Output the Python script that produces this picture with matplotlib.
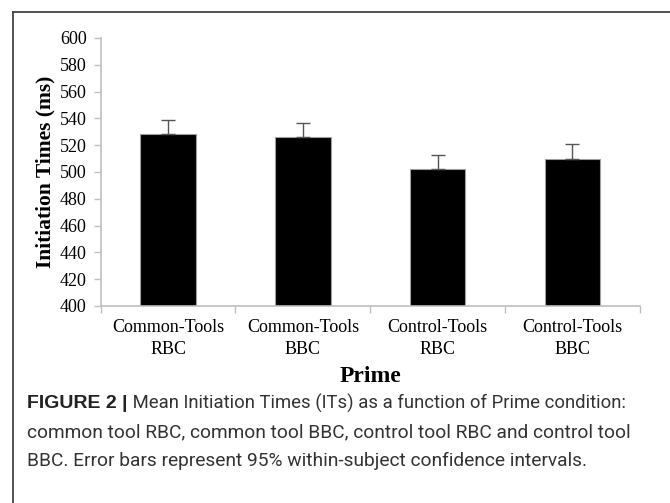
import matplotlib
matplotlib.use("Agg")
import matplotlib.pyplot as plt
from matplotlib.lines import Line2D

# values
conditions = ["Common-Tools\nRBC", "Common-Tools\nBBC", "Control-Tools\nRBC", "Control-Tools\nBBC"]
mean_it = [528, 526, 502, 510]
ci95 = [10.5, 10.7, 10.5, 11.0]
y_ticks = list(range(400, 601, 20))

caption_bold = "FIGURE 2 |"
caption_lines = [
    " Mean Initiation Times (ITs) as a function of Prime condition:",
    "common tool RBC, common tool BBC, control tool RBC and control tool",
    "BBC. Error bars represent 95% within-subject confidence intervals.",
]

serif = "Liberation Serif"
axis_grey = "#bfbfbf"

fig = plt.figure(figsize=(6.7, 5.03), dpi=100)
ax = fig.add_axes([0.1503, 0.3917, 0.8047, 0.5328])

x = list(range(len(conditions)))
ax.bar(x, mean_it, width=0.41, color="black", edgecolor="#a0a0a0", linewidth=0.8, zorder=2)
ax.errorbar(x, mean_it, yerr=[[0] * len(ci95), ci95], fmt="none", ecolor="#555555",
            elinewidth=1.0, capsize=5, capthick=1.0, zorder=3)

ax.set_xlim(-0.5, len(conditions) - 0.5)
ax.set_ylim(400, 600)
ax.set_yticks(y_ticks)
ax.set_yticklabels([str(v) for v in y_ticks], fontfamily=serif, fontsize=13)

# category boundaries get the tick marks, labels sit in the middle
ax.set_xticks([i - 0.5 for i in range(len(conditions) + 1)])
ax.set_xticklabels([])
ax.set_xticks(x, minor=True)
ax.set_xticklabels(conditions, minor=True, fontfamily=serif, fontsize=13, linespacing=1.35)
ax.tick_params(axis="x", which="minor", length=0, pad=9.5)
ax.tick_params(axis="x", which="major", length=5, color=axis_grey, width=1)
ax.tick_params(axis="y", length=5, color=axis_grey, width=1, pad=5)

for side in ["top", "right"]:
    ax.spines[side].set_visible(False)
for side in ["left", "bottom"]:
    ax.spines[side].set_color(axis_grey)
    ax.spines[side].set_linewidth(1.2)

ax.set_ylabel("Initiation Times (ms)", fontfamily=serif, fontweight="bold", fontsize=15.5)
ax.yaxis.set_label_coords(-0.103, 0.5)
ax.yaxis.label.set_va("center")
ax.set_xlabel("Prime", fontfamily=serif, fontweight="bold", fontsize=17)
ax.xaxis.set_label_coords(0.5, -0.2836)
ax.xaxis.label.set_va("baseline")

# frame of the figure panel (top and left edges)
fig.add_artist(Line2D([13 / 670, 1.0], [1 - 12 / 503, 1 - 12 / 503], transform=fig.transFigure,
                      color="#444444", linewidth=1.3))
fig.add_artist(Line2D([13 / 670, 13 / 670], [1 - 12 / 503, 0.0], transform=fig.transFigure,
                      color="#444444", linewidth=1.3))

# caption
cap_color = "#333333"
cap_font = "Roboto"
line_y = [1 - 403 / 503, 1 - 432 / 503, 1 - 461 / 503]
x0 = 27 / 670
t_bold = fig.text(x0, line_y[0], caption_bold, fontfamily="Liberation Sans", fontweight="bold",
                  fontsize=14, color="#222222", va="center")
fig.canvas.draw()
bb = t_bold.get_window_extent(renderer=fig.canvas.get_renderer())
fig.text(bb.x1 / fig.bbox.width, line_y[0], caption_lines[0], fontfamily=cap_font,
         fontsize=13.3, color=cap_color, va="center")
for txt, yy in zip(caption_lines[1:], line_y[1:]):
    fig.text(x0, yy, txt, fontfamily=cap_font, fontsize=13.8, color=cap_color, va="center")

fig.savefig("out.png", dpi=100)
